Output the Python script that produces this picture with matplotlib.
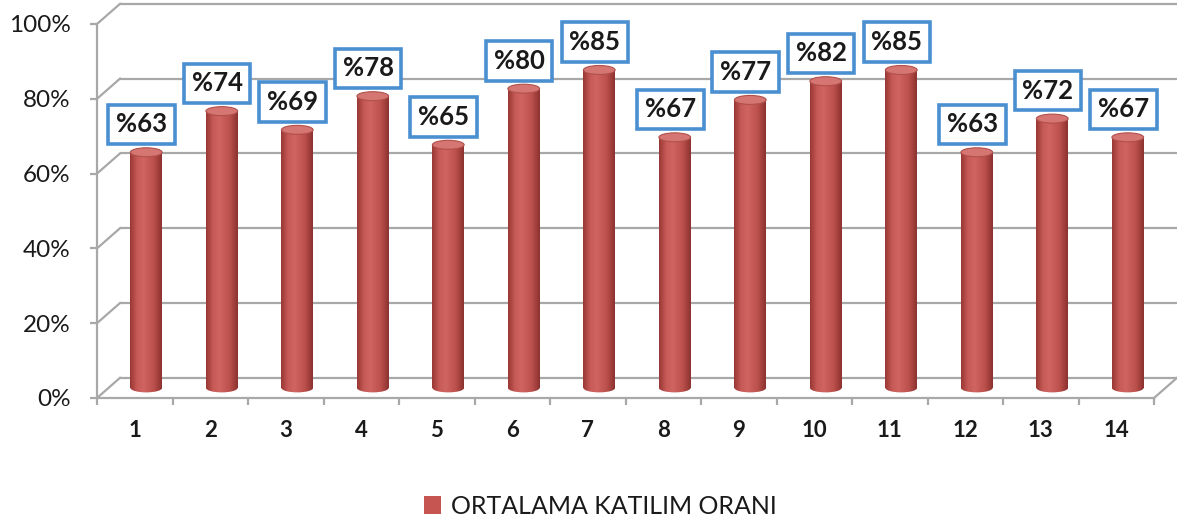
import numpy as np
import matplotlib
matplotlib.use('Agg')
import matplotlib.pyplot as plt
from matplotlib.patches import Rectangle, Ellipse, Patch
from matplotlib.transforms import ScaledTranslation
from matplotlib.colors import LinearSegmentedColormap

categories = [str(i) for i in range(1, 15)]
values = [63, 74, 69, 78, 65, 80, 85, 67, 77, 82, 85, 63, 72, 67]
value_labels = ['%' + str(v) for v in values]
y_ticks = [0, 20, 40, 60, 80, 100]
y_tick_labels = ['0%', '20%', '40%', '60%', '80%', '100%']
series_name = 'ORTALAMA KATILIM ORANI'

plt.rcParams['font.family'] = ['Lato', 'DejaVu Sans']
text_c = '#1A1A1A'
grid_c = '#A8A8A8'

fig = plt.figure(figsize=(11.77, 5.29), dpi=100)
ax = fig.add_axes([97 / 1177, 131 / 529, 1057 / 1177, 374 / 529])
xs = np.arange(1, len(values) + 1)
xmin, xmax = 0.5, len(values) + 0.5

# depth offset of the 3D box (data units)
DX, DY = 0.305, 5.4

# back wall gridlines and side-wall diagonals
for t in y_ticks:
    ax.plot([xmin + DX, xmax + DX], [t + DY, t + DY], color=grid_c, lw=1.6,
            clip_on=False, zorder=1, solid_capstyle='butt')
    ax.plot([xmin, xmin + DX], [t, t + DY], color=grid_c, lw=1.6,
            clip_on=False, zorder=1)
ax.plot([xmax, xmax + DX], [0, DY], color=grid_c, lw=1.6, clip_on=False, zorder=1)

# spines / ticks
for s in ['top', 'right']:
    ax.spines[s].set_visible(False)
for s in ['left', 'bottom']:
    ax.spines[s].set_color(grid_c)
    ax.spines[s].set_linewidth(1.6)
ax.set_yticks(y_ticks, y_tick_labels)
ax.tick_params(axis='y', length=5, width=1.6, color=grid_c, pad=14,
               labelsize=17.5, labelcolor=text_c)
ax.set_xticks(xs, categories)
ax.set_xticks(np.arange(xmin, xmax + 0.01, 1), minor=True)
ax.tick_params(axis='x', which='major', length=0, pad=16, labelsize=16,
               labelcolor=text_c)
ax.tick_params(axis='x', which='minor', length=5, width=1.6, color=grid_c)
for lbl in ax.get_xticklabels():
    lbl.set_fontweight('bold')

# cylinders
cmap = LinearSegmentedColormap.from_list('cyl', [
    (0.0, '#9A3835'), (0.22, '#C65A56'), (0.42, '#CF6460'),
    (0.75, '#BC504C'), (1.0, '#8C3230')])
grad = cmap(np.linspace(0, 1, 64))[None, :, :]
w = 0.42
eh = 2.4
for x, v in zip(xs, values):
    cx = x + DX / 2
    base = DY / 2
    top = v + DY / 2
    rect = Rectangle((cx - w / 2, base), w, v, fc='none', ec='none',
                     transform=ax.transData)
    ax.add_patch(rect)
    im = ax.imshow(grad, extent=[cx - w / 2, cx + w / 2, base - eh, top],
                   aspect='auto', interpolation='bilinear', zorder=3)
    im.set_clip_path(rect)
    bot = Ellipse((cx, base), w, eh, fc='none', ec='none', transform=ax.transData)
    ax.add_patch(bot)
    im2 = ax.imshow(grad, extent=[cx - w / 2, cx + w / 2, base - eh, top],
                    aspect='auto', interpolation='bilinear', zorder=3)
    im2.set_clip_path(bot)
    ax.add_patch(Ellipse((cx, top), w, eh, fc='#D57672', ec='#B14F4B',
                         lw=0.8, zorder=4))

ax.set_xlim(xmin, xmax)
ax.set_ylim(0, 100)

# value labels
lab_off = ax.transData + ScaledTranslation(7 / 100, 38 / 100, fig.dpi_scale_trans)
for x, v, s in zip(xs, values, value_labels):
    ax.text(x, v, s, transform=lab_off, ha='center', va='center',
            fontsize=18.5, fontweight='bold', color=text_c, zorder=6,
            bbox=dict(boxstyle='square,pad=0.3', fc='white', ec='#4A8FD0', lw=2.6))

fig.legend(handles=[Patch(fc='#C65552', ec='none')], labels=[series_name],
           loc='center', bbox_to_anchor=(0.51, 0.043), frameon=False,
           fontsize=18, handlelength=0.68, handleheight=0.68,
           handletextpad=0.4, labelcolor=text_c)

fig.savefig('out.png', dpi=100)
